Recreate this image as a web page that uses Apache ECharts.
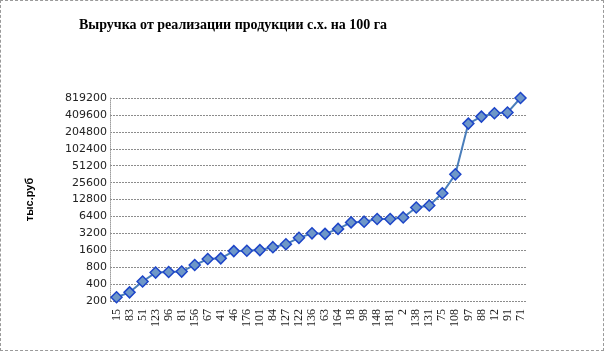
<!DOCTYPE html>
<html>
<head>
<meta charset="utf-8">
<script src="https://cdn.jsdelivr.net/npm/echarts@6/dist/echarts.min.js"></script>
<style>
  html, body { margin: 0; padding: 0; background: #fff; }
  #chart { width: 604px; height: 351px; box-sizing: border-box; border: 1px dashed #9a9a9a; }
</style>
</head>
<body>
<div id="chart"></div>
<script>
const TITLE = 'Выручка от реализации продукции с.х. на 100 га';
const Y_NAME = 'тыс.руб';

const farms = ['15', '83', '51', '123', '96', '81', '156', '67', '41', '46', '176', '101', '84', '127', '122', '136',
               '63', '164', '18', '98', '148', '181', '2', '138', '131', '75', '108', '97', '88', '12', '91', '71'];

const revenue = [233, 285, 445, 641, 658, 668, 875, 1116, 1147, 1545, 1570, 1610, 1816, 2050, 2660, 3200,
                 3130, 3840, 5010, 5160, 5760, 5760, 6140, 9240, 10030, 16550, 35900, 287000, 382000, 439000, 451000, 819200];

const chart = echarts.init(document.getElementById('chart'));

chart.setOption({
    backgroundColor: '#fff',
    animation: false,
    title: {
        text: TITLE,
        left: 73,
        top: 12,
        textStyle: { fontFamily: 'Liberation Serif', fontWeight: 'bold', fontSize: 14, color: '#000' }
    },
    grid: { left: 109, right: 76, top: 97, bottom: 49 },
    xAxis: {
        type: 'category',
        data: farms,
        boundaryGap: true,
        axisLine: { show: false },
        axisTick: { show: false },
        axisLabel: {
            rotate: 90,
            interval: 0,
            margin: 8,
            fontFamily: 'Liberation Serif',
            fontSize: 12,
            color: '#222'
        }
    },
    yAxis: {
        type: 'log',
        logBase: 2,
        min: 200,
        max: 819200,
        interval: 1,
        name: Y_NAME,
        nameLocation: 'middle',
        nameRotate: 90,
        nameGap: 75,
        nameTextStyle: { fontFamily: 'Liberation Sans', fontWeight: 'bold', fontSize: 11, color: '#000' },
        axisLine: { show: true, lineStyle: { color: '#a0a0a0', type: [1, 1] } },
        axisTick: { show: false },
        axisLabel: {
            margin: 3,
            fontFamily: 'DejaVu Sans',
            fontSize: 11,
            color: '#222',
            formatter: v => String(200 * Math.pow(2, Math.round(Math.log2(v / 200))))
        },
        splitLine: { show: true, lineStyle: { color: '#8c8c8c', type: [2, 1], width: 1 } }
    },
    series: [{
        type: 'line',
        data: revenue,
        symbol: 'diamond',
        symbolSize: 11,
        clip: false,
        lineStyle: { color: '#4a7ebb', width: 2 },
        itemStyle: { color: '#6e97c8', borderColor: '#1d45c8', borderWidth: 1.5 }
    }]
});
</script>
</body>
</html>
